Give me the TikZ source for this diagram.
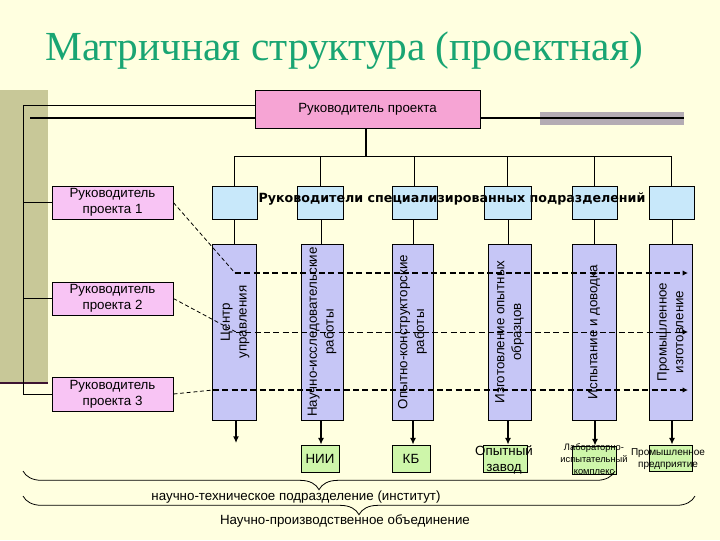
\documentclass[tikz,border=0pt]{standalone}
\usepackage{fontspec}
\setmainfont{Liberation Sans}
\newfontfamily\titlefont{Liberation Serif}
\newfontfamily\headfont{DejaVu Sans}
\usetikzlibrary{fit,arrows.meta,decorations.pathreplacing}
\definecolor{bgyellow}{RGB}{255,255,224}
\definecolor{band}{RGB}{200,200,152}
\definecolor{banddark}{RGB}{60,20,50}
\definecolor{titlegreen}{RGB}{25,165,115}
\definecolor{toppink}{RGB}{246,164,212}
\definecolor{pmpink}{RGB}{248,196,244}
\definecolor{deptblue}{RGB}{200,232,250}
\definecolor{worklilac}{RGB}{198,198,246}
\definecolor{unitgreen}{RGB}{206,246,170}
\definecolor{graybar}{RGB}{180,172,180}
\tikzset{
  frame/.style={draw=black, line width=0.6pt, inner sep=0pt},
  topbox/.style={frame, fill=toppink},
  pmbox/.style={frame, fill=pmpink},
  deptbox/.style={frame, fill=deptblue},
  workbox/.style={frame, fill=worklilac},
  unitbox/.style={frame, fill=unitgreen},
  txt/.style={font=\fontsize{10pt}{12pt}\selectfont, align=center, inner sep=0pt},
  vtxt/.style={font=\fontsize{10pt}{12.5pt}\selectfont, align=center, inner sep=0pt, rotate=90},
  small/.style={font=\fontsize{7pt}{9pt}\selectfont, align=center, inner sep=0pt},
  conn/.style={line width=0.75pt},
  thickconn/.style={line width=2.2pt},
  downarrow/.style={line width=1.5pt, -{Latex[length=5pt,width=4.5pt]}},
  thindash/.style={line width=0.6pt, dash pattern=on 3pt off 2pt},
  thickdash/.style={line width=1.5pt, dash pattern=on 4.5pt off 2.5pt, -{Latex[length=4pt,width=4pt]}},
  middash/.style={line width=0.75pt, dash pattern=on 4.5pt off 2.5pt, -{Latex[length=4pt,width=4pt]}},
  bracestyle/.style={line width=0.6pt, decorate, decoration={brace, mirror, amplitude=14pt}},
}
\begin{document}
\begin{tikzpicture}[x=0.75pt,y=-0.75pt]
\fill[bgyellow] (0,0) rectangle (720,540);
\useasboundingbox (0,0) rectangle (720,540);

% title
\node[anchor=base west, inner sep=0pt, text=titlegreen, font=\titlefont\fontsize{31pt}{35pt}\selectfont] (title) at (45,60) {Матричная структура (проектная)};

% left band
\fill[band] (0,90) rectangle (48,383);
\draw[banddark, line width=2.2pt] (0,383) -- (48,383);

% top box
\node[topbox, fit={(255,90) (480,128)}] (top) {};
\node[txt] at (top.center) {Руководитель проекта};

% gray bar behind right line
\fill[graybar] (540,112) rectangle (684,125);

% project managers
\node[pmbox, fit={(52,186) (173,219)}] (p1) {};
\node[txt] at (p1.center) {Руководитель\\проекта 1};
\node[pmbox, fit={(52,282) (173,315)}] (p2) {};
\node[txt] at (p2.center) {Руководитель\\проекта 2};
\node[pmbox, fit={(52,377) (173,411)}] (p3) {};
\node[txt] at (p3.center) {Руководитель\\проекта 3};

% lines from top box to the left
\coordinate (lt) at (23,105);
\coordinate (lt2) at (30,118);
\coordinate (rt) at (684,118);
\draw[conn] (lt) -- (lt -| top.west);
\draw[line width=1.6pt] (lt2) -- (lt2 -| top.west);
\draw[line width=1.6pt] (top.east |- rt) -- (rt);
\draw[conn] (lt) |- (p3.west);
\draw[conn] (lt |- p1.west) -- (p1.west);
\draw[conn] (lt |- p2.west) -- (p2.west);

% department heads
\node[deptbox, fit={(212,186) (257,219)}] (d1) {};
\node[deptbox, fit={(297,186) (343,219)}] (d2) {};
\node[deptbox, fit={(392,186) (437,219)}] (d3) {};
\node[deptbox, fit={(484,186) (531,219)}] (d4) {};
\node[deptbox, fit={(572,186) (617,219)}] (d5) {};
\node[deptbox, fit={(649,186) (694,219)}] (d6) {};

\coordinate (busL) at (236,156);
\draw[conn] (d1.north |- busL) -- (d6.north |- busL);
\foreach \d in {d1,d2,d3,d4,d5,d6} {
  \draw[conn] (\d.north) -- (\d.north |- busL);
}
\draw[thickconn] (top.south -| 366,0) -- (366,156);

% work columns
\node[workbox, fit={(212,244) (256,420)}] (w1) {};
\node[workbox, fit={(301,244) (343,420)}] (w2) {};
\node[workbox, fit={(392,244) (433,420)}] (w3) {};
\node[workbox, fit={(488,244) (531,420)}] (w4) {};
\node[workbox, fit={(572,244) (616,420)}] (w5) {};
\node[workbox, fit={(649,244) (692,420)}] (w6) {};

\draw[conn] (d1.south) -- (d1.south |- w1.north);
\draw[conn] (d2.south) -- (d2.south -| 321,0) -- (321,244);
\draw[conn] (d3.south -| 413,0) -- (413,244);
\draw[conn] (d4.south -| 508,0) -- (508,244);
\draw[conn] (d5.south) -- (d5.south |- w5.north);
\draw[conn] (d6.south -| 672,0) -- (672,244);

\node[vtxt] at (235,322) {Центр\\управления};
\node[vtxt] at (w2.center) {Научно-исследовательские\\работы};
\node[vtxt] at (w3.center) {Опытно-конструкторские\\работы};
\node[vtxt] at (w4.center) {Изготовление опытных\\образцов};
\node[vtxt] at (w5.center) {Испытание и доводка};
\node[vtxt] at (w6.center) {Промышленное\\изготовление};

% heading
\node[inner sep=0pt, font=\headfont\bfseries\fontsize{9.5pt}{11pt}\selectfont] (head) at (452,199) {Руководители специализированных подразделений};

% dashed project lines
\coordinate (h1) at (235,273);
\coordinate (h2) at (236,332);
\coordinate (h3) at (213,390);
\draw[thindash] (p1.east) -- (h1);
\draw[thindash] (p2.east) -- (h2);
\draw[thindash] (p3.east) -- (h3);
\draw[thickdash] (h1) -- (688,273);
\draw[middash] (h2) -- (688,332);
\draw[thickdash] (h3) -- (688,390);

% bottom units
\node[unitbox, fit={(301,445) (339,472)}] (nii) {};
\node[txt] at (nii.center) {НИИ};
\node[unitbox, fit={(392,445) (430,472)}] (kb) {};
\node[txt] at (kb.center) {КБ};
\node[unitbox, fit={(483,445) (527,472)}] (oz) {};
\node[txt, font=\fontsize{10pt}{11.5pt}\selectfont] at (504,460) {Опытный\\завод};
\node[unitbox, fit={(572,446) (616,474)}] (lab) {};
\node[small, font=\fontsize{7pt}{8.8pt}\selectfont] at (594,459) {Лабораторно-\\испытательный\\комплекс};
\node[unitbox, fit={(649,445) (692,471)}] (prom) {};
\node[small, font=\fontsize{7.5pt}{9pt}\selectfont] at (668,459) {Промышленное\\предприятие};

\coordinate (cu) at (236,443);
\draw[downarrow] (w1.south -| 236,0) -- (cu);
\draw[downarrow] (w2.south -| 321,0) -- (nii.north -| 321,0);
\draw[downarrow] (w3.south -| 413,0) -- (kb.north -| 413,0);
\draw[downarrow] (w4.south -| 508,0) -- (oz.north -| 508,0);
\draw[downarrow] (w5.south -| 595,0) -- (lab.north -| 595,0);
\draw[downarrow] (w6.south -| 672,0) -- (prom.north -| 672,0);

% braces
\coordinate (b1l) at (23,471);
\coordinate (b1r) at (615,471);
\coordinate (b2l) at (23,496);
\coordinate (b2r) at (695,496);
\draw[bracestyle] (b1l) -- (b1r);
\draw[bracestyle] (b2l) -- (b2r);
\node[txt] (nt) at (296,497) {научно-техническое подразделение (институт)};
\node[txt] (npo) at (345,521) {Научно-производственное объединение};
\end{tikzpicture}
\end{document}
